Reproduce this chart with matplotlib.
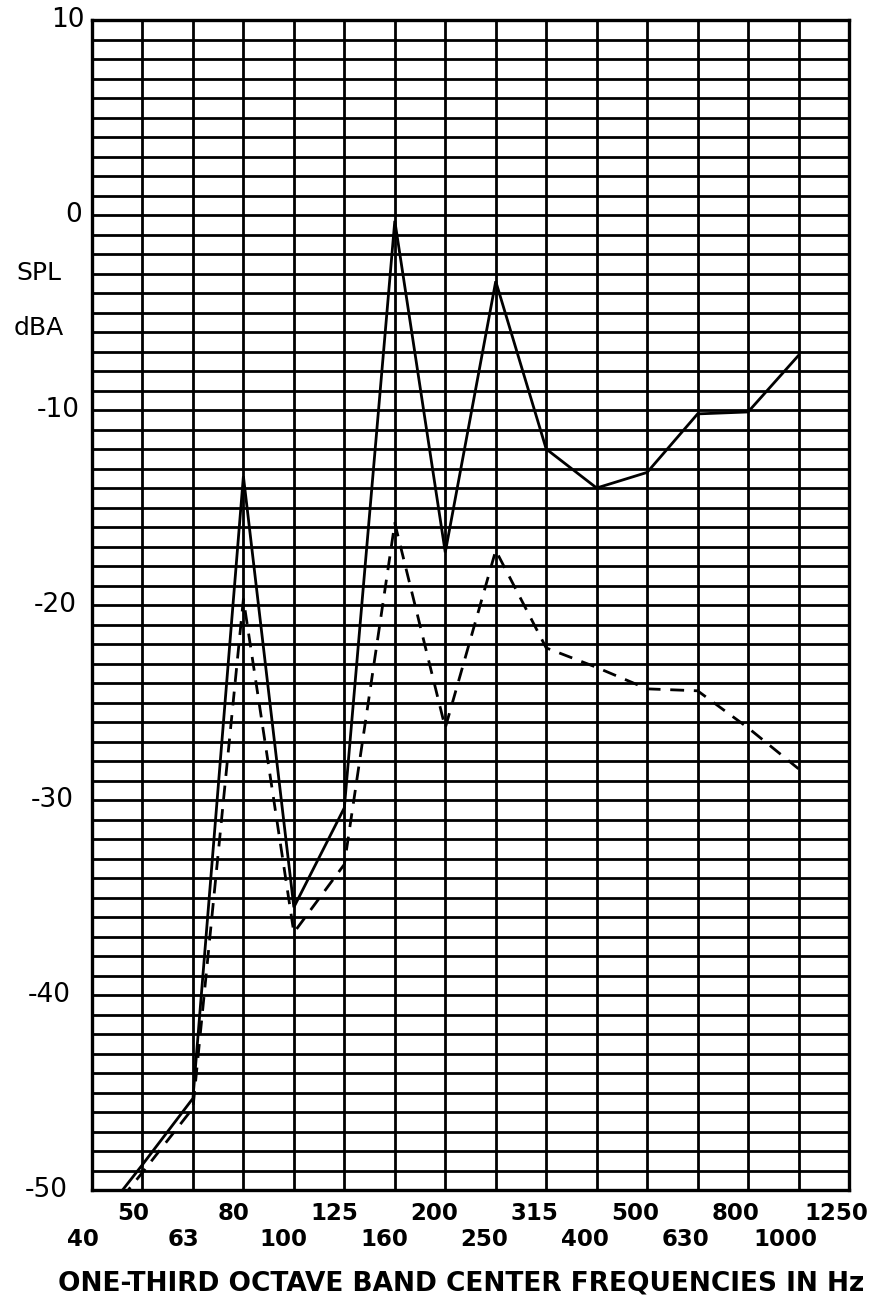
import numpy as np
import matplotlib.pyplot as plt

# one-third octave bands (x positions are the band index)
bands = ['40', '50', '63', '80', '100', '125', '160', '200', '250',
         '315', '400', '500', '630', '800', '1000', '1250']

# SPL in dBA (40 ... 1000 Hz)
spl_solid = [-52.0, -48.7, -45.3, -13.4, -35.5, -30.4, -0.3, -17.3,
             -3.4, -12.0, -14.0, -13.2, -10.2, -10.1, -7.2]
spl_dashed = [-52.3, -49.1, -45.8, -19.7, -36.8, -33.3, -15.8, -26.3,
              -17.2, -22.2, -23.2, -24.3, -24.4, -26.3, -28.4]

ytick_vals = [10, 0, -10, -20, -30, -40, -50]

W, H = 874, 1311
fig = plt.figure(figsize=(W/100, H/100), dpi=100)
left, right, top, bottom = 92, 849, 20, 1190
ax = fig.add_axes([left/W, 1 - bottom/H, (right-left)/W, (bottom-top)/H])

x_solid = np.arange(len(spl_solid))
x_dashed = np.arange(len(spl_dashed))
ax.plot(x_solid, spl_solid, color='black', lw=2.0, solid_joinstyle='miter', zorder=3)
ax.plot(x_dashed, spl_dashed, color='black', lw=2.0, linestyle=(0, (5, 3.5)), zorder=3)

ax.set_xlim(0, len(bands) - 1)
ax.set_ylim(-50, 10)

# graph paper grid: every band, every dB
ax.set_xticks(np.arange(len(bands)))
ax.set_yticks(np.arange(-50, 11))
ax.grid(True, color='black', lw=2.0)
ax.set_axisbelow(True)
ax.tick_params(length=0)
ax.set_xticklabels([])
ax.set_yticklabels([])
for s in ax.spines.values():
    s.set_linewidth(2.4)

# the scanned sheet is slightly skewed, so labels follow the tilted edges
for v in ytick_vals:
    ypix = top + (10 - v) / 60 * (bottom - top)
    xr = 85 - (ypix - top) / (bottom - top) * 17
    fig.text(xr/W, 1 - ypix/H, str(v), fontsize=19, ha='right', va='center',
             family=['Liberation Sans Narrow', 'DejaVu Sans'])

# staggered band labels
for i, b in enumerate(bands):
    ypix = 1214 if i % 2 == 1 else 1240
    xpix = 83 + i * (836 - 83) / (len(bands) - 1)
    fig.text(xpix/W, 1 - ypix/H, b, ha='center', va='center',
             fontsize=16.5, fontweight='bold', family='DejaVu Sans')

fig.text(16/W, 1 - 273/H, 'SPL', fontsize=18, ha='left', va='center')
fig.text(14/W, 1 - 328/H, 'dBA', fontsize=18, ha='left', va='center')

fig.text(461/W, 1 - 1284/H, 'ONE-THIRD OCTAVE BAND CENTER FREQUENCIES IN Hz',
         fontsize=19, fontweight='bold', ha='center', va='center')

fig.savefig('out.png', dpi=100)
